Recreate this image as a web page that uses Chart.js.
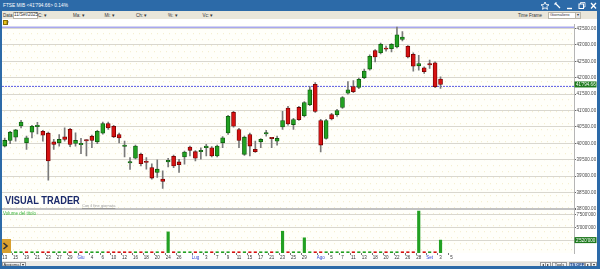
<!DOCTYPE html>
<html>
<head>
<meta charset="utf-8">
<script src="https://cdn.jsdelivr.net/npm/chart.js"></script>
<style>
body { margin: 0; width: 600px; height: 269px; overflow: hidden; background: #fff; position: relative; font-family: "Liberation Sans", Arial, sans-serif; }
.a { position: absolute; white-space: nowrap; }
#title { left: 0; top: 0; width: 600px; height: 11px; background: #2c6aa8; }
#title span { color: #fff; font-size: 4.8px; top: 3.3px; }
#tools { left: 0; top: 11px; width: 600px; height: 8px; background: #e9e6da; font-size: 4.5px; color: #333; }
#tools span { top: 2px; }
.box { background: #fff; border: 1px solid #b9b6aa; height: 4.5px; }
#frameL { left: 0; top: 11px; width: 1.5px; height: 258px; background: #2c6aa8; z-index: 5; }
#frameR { left: 597px; top: 11px; width: 3px; height: 258px; background: #2c6aa8; z-index: 5; }
#frameB { left: 0; top: 265.5px; width: 600px; height: 3.5px; background: #2c6aa8; z-index: 5; }
#bottom { left: 0; top: 261px; width: 600px; height: 5px; background: #ecebe6; font-size: 4px; color: #222; }
#chartWrap { left: 0; top: 21px; width: 597px; height: 241px; }
.btn { top: 0.5px; height: 4px; line-height: 4px; border: 0.5px solid #9a9a9a; background: #f4f4f4; text-align: center; }
</style>
</head>
<body>
<div class="a" id="title">
  <span class="a" style="left:3px">FTSE MIB &lt;41'794.66&gt; 0.14%</span>
  <svg class="a" style="left:541px;top:1px" width="56" height="9" viewBox="0 0 56 9">
    <polygon points="4,1 5.2,3.6 8,3.8 5.8,5.6 6.5,8.3 4,6.8 1.5,8.3 2.2,5.6 0,3.8 2.8,3.6" fill="none" stroke="#fff" stroke-width="0.9"/>
    <path d="M14 2 L19 7 M13.5 3.5 L15.5 1.5" stroke="#fff" stroke-width="1.2"/>
    <path d="M26 7.5 L31 7.5" stroke="#fff" stroke-width="1.4"/>
    <rect x="38" y="3" width="4.5" height="4.5" fill="none" stroke="#fff" stroke-width="1"/>
    <path d="M39.5 3 V1.5 H44 V6 H42.5" fill="none" stroke="#fff" stroke-width="0.8"/>
    <path d="M50 2 L55 7.5 M55 2 L50 7.5" stroke="#fff" stroke-width="1.3"/>
  </svg>
</div>
<div class="a" id="tools">
  <span class="a" style="left:3px">Data:</span>
  <span class="a box" style="left:12.5px;top:1.2px;width:23px;line-height:4.5px;font-size:4.5px;padding-left:0.5px">11/Set/2025</span>
  <span class="a" style="left:38px">C: &#9662;</span>
  <span class="a" style="left:73px">Ma: &#9662;</span>
  <span class="a" style="left:104.5px">Mi: &#9662;</span>
  <span class="a" style="left:136px">Ch: &#9662;</span>
  <span class="a" style="left:168px">%: &#9662;</span>
  <span class="a" style="left:202.5px">Vc: &#9662;</span>
  <span class="a" style="left:518px">Time Frame</span>
  <span class="a box" style="left:548px;top:1.2px;width:26px;line-height:4.5px;font-size:4px;padding-left:1px">Giornaliero</span>
  <span class="a box" style="left:574.5px;top:1.2px;width:4.5px;line-height:4.5px;font-size:4px;text-align:center;background:#e4e4e4">&#9662;</span>
</div>
<div class="a" id="chartWrap"><canvas id="chart" width="597" height="241"></canvas></div>
<div class="a" style="left:2.5px;top:20px;width:3px;height:3px;background:#e6c21a;border:0.3px solid #8a7000;z-index:3"></div>
<div class="a" style="left:6.5px;top:19.5px;font-size:4px;color:#333;z-index:3">l/</div>
<div class="a" style="left:5px;top:194px;font-size:10.5px;font-weight:bold;color:#1b2a6b;transform:scaleX(0.88);transform-origin:left;z-index:3">VISUAL TRADER</div>
<div class="a" style="left:82px;top:202.5px;font-size:4px;color:#9a9a9a;text-decoration:underline;z-index:3">Con il fine giornata</div>
<div class="a" style="left:3px;top:210.5px;font-size:4.5px;color:#3cb83c;z-index:3">Volume del titolo</div>
<div class="a" style="left:0;top:239px;width:11px;height:14px;background:#d9a02e;z-index:4">
  <svg class="a" style="left:2px;top:3px" width="7" height="8" viewBox="0 0 7 8"><path d="M1.5 1 L5 4 L1.5 7" fill="none" stroke="#333" stroke-width="1.6"/></svg>
</div>
<div class="a" id="bottom">
  <span class="a btn" style="left:2px;width:17px">Aggiorna</span>
  <span class="a btn" style="left:20px;width:4px">&#9662;</span>
  <span class="a btn" style="left:540px;width:4px">&#9666;</span>
  <span class="a btn" style="left:545px;width:4px">&#9656;</span>
  <span class="a btn" style="left:552px;width:13px">Tools</span>
  <span class="a btn" style="left:569px;width:14px;background:#b9d0ec;color:#1a3c80;font-weight:bold">TS OFF</span>
  <span class="a btn" style="left:585px;width:4px">&#9656;</span>
  <span class="a btn" style="left:591px;width:4px">&#9662;</span>
</div>
<div class="a" id="frameL"></div>
<div class="a" id="frameR"></div>
<div class="a" id="frameB"></div>

<script>
// sedute dal 13 maggio al 5 settembre 2025 (etichette asse x, vuote dove non mostrate)
const xLabels = ['13','','15','','19','','21','','23','','27','','29','','Giu','','4','','6','','10','','12','','16','','18','','20','','24','','26','','','Lug','','3','','7','','9','','11','','15','','17','','21','','23','','25','','29','','','Ago','','5','','7','','11','','13','','18','','20','','22','','26','','28','','Set','','3','','5'];
const slots = 105;

const opens = [39918,40090,40189,40530,40017,40340,40512,40370,40310,40047,40017,40200,40431,39999,39957,40099,40219,40047,40310,40603,40521,40270,39909,39405,39546,39667,39435,39262,39112,38913,39435,39607,39435,39586,39887,39746,39746,39867,39867,39616,40017,40319,40944,40422,39667,40270,39818,40047,40289,40153,40068,40500,41073,40573,41095,40844,41176,41798,40693,40150,40874,40874,41095,41526,41728,41707,42000,42263,42824,42764,42905,42884,42936,43168,42957,42715,42362,42302,42407,42453,41960];
const highs = [40160,40370,40430,40702,40219,40551,40642,40400,40340,40120,40270,40470,40460,40319,40150,40110,40250,40400,40651,40651,40551,40310,40068,39565,39948,39707,39565,39374,39495,39160,39546,39646,39516,39767,39918,39782,39867,39969,39903,39948,40204,40853,40974,40460,40219,40310,40068,40144,40400,40160,40219,40974,41125,40763,41125,41276,41728,41849,40732,40732,40914,41034,41427,41879,41909,41985,42263,42694,42860,43056,42966,43041,43539,43409,42981,42755,42685,42332,42534,42483,42030];
const lows = [39888,39987,40068,40470,39818,40168,40289,40068,38882,39818,39918,40068,39897,39918,39685,39616,39866,39987,40280,40422,40176,40017,39586,39203,39525,39314,39214,38913,38961,38629,39284,39262,39112,39365,39616,39465,39516,39616,39586,39586,39867,40270,40491,39867,39631,39616,39722,39867,40219,39867,39948,40422,40551,40422,40702,40808,41146,40944,39737,40128,40717,40823,41065,41496,41547,41668,41970,42226,42483,42724,42806,42785,42905,43117,42604,42202,42232,42130,42281,41698,41677];
const closes = [40090,40340,40410,40651,40168,40521,40551,40250,39465,39969,40120,40120,39969,40090,39999,40078,40090,40370,40603,40470,40200,40168,39948,39444,39918,39383,39417,38943,39214,38840,39486,39314,39353,39737,39788,39546,39788,39918,39616,39918,40168,40823,40521,40090,40189,39918,39746,40120,40319,40144,40150,40693,40591,40723,40723,41246,41629,40974,39948,40693,40742,40995,41396,41629,41577,41949,42202,42655,42634,43017,42866,43017,43307,43237,42634,42353,42432,42181,42392,41728,41794.66];
const volumes = [250000,250000,250000,250000,250000,250000,250000,250000,250000,250000,250000,250000,250000,250000,250000,250000,250000,250000,250000,250000,250000,250000,250000,250000,250000,250000,250000,250000,250000,250000,4130000,250000,250000,250000,250000,250000,250000,250000,250000,250000,250000,250000,250000,250000,250000,250000,250000,250000,250000,250000,250000,4260000,250000,250000,250000,2970000,250000,250000,250000,250000,250000,250000,250000,250000,250000,250000,250000,250000,250000,250000,250000,250000,250000,250000,250000,250000,8200000,250000,250000,250000,2520000];
const prevClose = 41736;
const priceTicks = [38000,38500,39000,39500,40000,40500,41000,41500,42000,42500,43000,43500];
const volTicks = [2500000,5000000,7500000];

const GREEN = '#22a022', GREEN_DK = '#0d5a0d', RED = '#d61212', RED_DK = '#6e0000';

function fmt(v, dec) {
    const [i, d] = v.toFixed(dec).split('.');
    return i.replace(/\B(?=(\d{3})+(?!\d))/g, "'") + (d ? '.' + d : '');
}

const labels = xLabels.concat(Array(slots - xLabels.length).fill(''));
const up = opens.map((o, i) => closes[i] >= o);
const volUp = closes.map((c, i) => i === 0 || c >= closes[i - 1]);

const overlay = {
    id: 'overlay',
    beforeDraw(chart) {
        const { ctx, chartArea: a } = chart;
        ctx.save();
        ctx.fillStyle = '#fffffa';
        ctx.fillRect(a.left, a.top, a.right - a.left, a.bottom - a.top);
        ctx.fillStyle = '#f3ecc8';
        let row = 0;
        for (let y = a.top + 3; y < a.bottom; y += 6, row++) {
            for (let x = a.left + 2 + (row % 2 ? 3 : 0); x < a.right; x += 6) ctx.fillRect(x, y, 1, 1);
        }
        ctx.restore();
    },
    beforeDatasetsDraw(chart) {
        const { ctx, chartArea: a, scales } = chart;
        ctx.save();
        const yMax = scales.y.getPixelForValue(Math.max(...highs));
        ctx.strokeStyle = '#a8a8ee';
        ctx.lineWidth = 1.5;
        ctx.beginPath(); ctx.moveTo(a.left, yMax); ctx.lineTo(a.right, yMax); ctx.stroke();
        const yRef = scales.y.getPixelForValue(prevClose);
        ctx.strokeStyle = '#5858e0';
        ctx.lineWidth = 1;
        ctx.setLineDash([2, 1]);
        ctx.beginPath(); ctx.moveTo(a.left, yRef); ctx.lineTo(a.right, yRef); ctx.stroke();
        ctx.restore();
    },
    afterDraw(chart) {
        const { ctx, chartArea: a, scales } = chart;
        const last = closes.length - 1;
        ctx.save();
        ctx.font = '4.5px "Liberation Sans"';
        ctx.textBaseline = 'middle';
        [[scales.y.getPixelForValue(closes[last]), fmt(closes[last], 2)],
         [scales.yVol.getPixelForValue(volumes[last]), fmt(volumes[last], 0)]].forEach(([y, t]) => {
            ctx.fillStyle = '#1e7a1e';
            ctx.fillRect(a.right + 0.5, y - 3, 22, 6);
            ctx.fillStyle = '#fff';
            ctx.fillText(t, a.right + 2, y + 0.3);
        });
        ctx.restore();
    }
};

const yFit = s => { s.width = 23; };

new Chart(document.getElementById('chart'), {
    type: 'bar',
    data: {
        labels: labels,
        datasets: [{
            label: 'corpo',
            data: opens.map((o, i) => [o, closes[i]]),
            yAxisID: 'y',
            grouped: false,
            order: 0,
            barThickness: 4,
            minBarLength: 1.2,
            borderSkipped: false,
            borderWidth: 0.8,
            backgroundColor: up.map(u => u ? GREEN : RED),
            borderColor: up.map(u => u ? GREEN_DK : RED_DK)
        }, {
            label: 'ombra',
            data: lows.map((l, i) => [l, highs[i]]),
            yAxisID: 'y',
            grouped: false,
            order: 1,
            barThickness: 1,
            backgroundColor: '#7a7a7a'
        }, {
            label: 'Volume del titolo',
            data: volumes,
            yAxisID: 'yVol',
            grouped: false,
            order: 2,
            barThickness: 2.5,
            backgroundColor: volUp.map(u => u ? GREEN : RED)
        }]
    },
    options: {
        responsive: false,
        animation: false,
        devicePixelRatio: 1,
        layout: { padding: { left: 2, top: 1, right: 0, bottom: 0 } },
        plugins: { legend: { display: false }, tooltip: { enabled: false } },
        scales: {
            x: {
                grid: { drawOnChartArea: false, tickLength: 2, tickColor: c => (c.tick && c.tick.label) ? '#777' : 'rgba(0,0,0,0)' },
                border: { display: false },
                ticks: {
                    autoSkip: false, maxRotation: 0, padding: 0,
                    font: { size: 4.5 },
                    color: c => /^[A-Za-z]/.test(c.tick.label) ? '#2a3fd0' : '#333'
                },
                afterFit: s => { s.height = 9; }
            },
            y: {
                position: 'right',
                stack: 'pannelli',
                stackWeight: 186.6,
                min: 38000,
                max: 43630,
                afterBuildTicks: s => { s.ticks = priceTicks.map(v => ({ value: v })); },
                grid: {
                    color: c => c.tick && c.tick.value === 38000 ? '#c2c2c2' : '#d9d7cf',
                    lineWidth: c => c.tick && c.tick.value === 38000 ? 2 : 1,
                    tickLength: 2, tickColor: '#666'
                },
                border: { color: '#b5b5b5' },
                ticks: { padding: 0.5, font: { size: 4.5 }, color: '#444', callback: v => fmt(v, 2) },
                afterFit: yFit
            },
            yVol: {
                position: 'right',
                stack: 'pannelli',
                stackWeight: 44.4,
                min: 0,
                max: 8600000,
                afterBuildTicks: s => { s.ticks = volTicks.map(v => ({ value: v })); },
                grid: { color: '#d9d7cf', tickLength: 2, tickColor: '#666' },
                border: { color: '#b5b5b5' },
                ticks: { padding: 0.5, font: { size: 4.5 }, color: '#444', callback: v => fmt(v, 0) },
                afterFit: yFit
            }
        }
    },
    plugins: [overlay]
});
</script>
</body>
</html>
